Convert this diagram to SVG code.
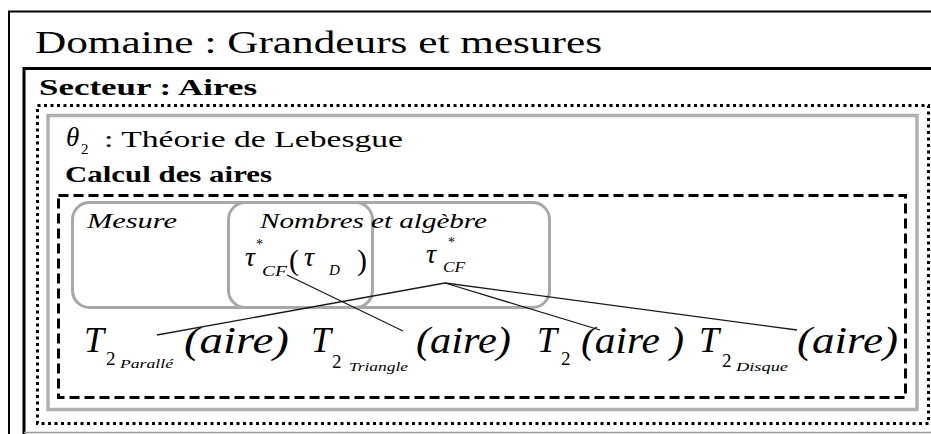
<svg xmlns="http://www.w3.org/2000/svg" width="931" height="434" viewBox="0 0 931 434" font-family="'Liberation Serif', 'DejaVu Serif', serif">
<style>
text{font-family:"Liberation Serif","DejaVu Serif",serif;fill:#000}
.it{font-style:italic}
.b{font-weight:bold}
.frame{fill:none;stroke:#000}
.round{fill:none;stroke:#a8a8a8;stroke-width:3}
.conn{fill:none;stroke:#1a1a1a;stroke-width:1.3}
</style>
<rect width="931" height="434" fill="#fff"/>
<g id="domaine">
<path class="frame" d="M9,445 V11.5 H940" stroke-width="2"/>
<text x="35" y="53" font-size="32" textLength="567" lengthAdjust="spacingAndGlyphs">Domaine : Grandeurs et mesures</text>
</g>
<g id="secteur">
<path class="frame" d="M24,445 V68.5 H940" stroke-width="3"/>
<line x1="24" y1="432.5" x2="931" y2="432.5" stroke="#9a9a9a" stroke-width="1.5"/>
<text class="b" x="39" y="95" font-size="23" textLength="218" lengthAdjust="spacingAndGlyphs">Secteur : Aires</text>
<rect x="37.5" y="105.5" width="891" height="318" fill="none" stroke="#000" stroke-width="3" stroke-dasharray="3 3.5"/>
</g>
<g id="theorie">
<rect x="48" y="115.5" width="869" height="294" fill="none" stroke="#b0b0b0" stroke-width="3.5"/>
<text class="it" x="66" y="146" font-size="27">θ</text>
<text x="81" y="154" font-size="15">2</text>
<text x="104" y="147" font-size="23" textLength="299" lengthAdjust="spacingAndGlyphs">: Théorie de Lebesgue</text>
</g>
<g id="calcul">
<text class="b" x="65" y="182" font-size="23" textLength="207" lengthAdjust="spacingAndGlyphs">Calcul des aires</text>
<rect x="58.5" y="195.5" width="847" height="202" fill="none" stroke="#000" stroke-width="3" stroke-dasharray="10 5"/>
</g>
<g id="mesure">
<rect class="round" x="72.5" y="202.5" width="300" height="105" rx="17"/>
<text class="it" x="87" y="228" font-size="22" textLength="90" lengthAdjust="spacingAndGlyphs">Mesure</text>
</g>
<g id="nombres">
<rect class="round" x="228.5" y="202.5" width="321" height="105" rx="17"/>
<text class="it" x="260" y="228" font-size="22" textLength="227" lengthAdjust="spacingAndGlyphs">Nombres et algèbre</text>
</g>
<g id="tau-cf-d">
<text class="it" x="245" y="266" font-size="28">τ</text>
<text x="256" y="249" font-size="14">*</text>
<text class="it" x="262" y="276" font-size="15" textLength="25" lengthAdjust="spacingAndGlyphs">CF</text>
<text x="289" y="270" font-size="30">(</text>
<text class="it" x="304" y="266" font-size="28">τ</text>
<text class="it" x="329" y="275" font-size="15">D</text>
<text x="357" y="270" font-size="30">)</text>
</g>
<g id="tau-cf">
<text class="it" x="426" y="263" font-size="28">τ</text>
<text x="448" y="247" font-size="14">*</text>
<text class="it" x="443" y="272" font-size="15" textLength="22" lengthAdjust="spacingAndGlyphs">CF</text>
</g>
<g id="t2-parallele">
<text class="it" x="84" y="352" font-size="36">T</text>
<text x="106" y="365" font-size="19">2</text>
<text class="it" x="120" y="368" font-size="13" textLength="53" lengthAdjust="spacingAndGlyphs">Parallé</text>
<text class="it" x="184" y="353" font-size="38" textLength="105" lengthAdjust="spacingAndGlyphs">(aire)</text>
</g>
<g id="t2-triangle">
<text class="it" x="311" y="352" font-size="36">T</text>
<text x="332" y="368" font-size="19">2</text>
<text class="it" x="349" y="371" font-size="13" textLength="59" lengthAdjust="spacingAndGlyphs">Triangle</text>
<text class="it" x="416" y="353" font-size="38" textLength="95" lengthAdjust="spacingAndGlyphs">(aire)</text>
</g>
<g id="t2">
<text class="it" x="537" y="352" font-size="36">T</text>
<text x="561" y="365" font-size="19">2</text>
<text class="it" x="581" y="353" font-size="38" textLength="103" lengthAdjust="spacingAndGlyphs">(aire )</text>
</g>
<g id="t2-disque">
<text class="it" x="699" y="352" font-size="36">T</text>
<text x="722" y="367" font-size="19">2</text>
<text class="it" x="736" y="371" font-size="13" textLength="52" lengthAdjust="spacingAndGlyphs">Disque</text>
<text class="it" x="797" y="353" font-size="38" textLength="101" lengthAdjust="spacingAndGlyphs">(aire)</text>
</g>
<g id="connectors">
<line class="conn" x1="445" y1="283" x2="157" y2="335"/>
<line class="conn" x1="445" y1="283" x2="600" y2="330"/>
<line class="conn" x1="445" y1="283" x2="797" y2="330"/>
<line class="conn" x1="287" y1="275" x2="403" y2="331"/>
</g>
</svg>
